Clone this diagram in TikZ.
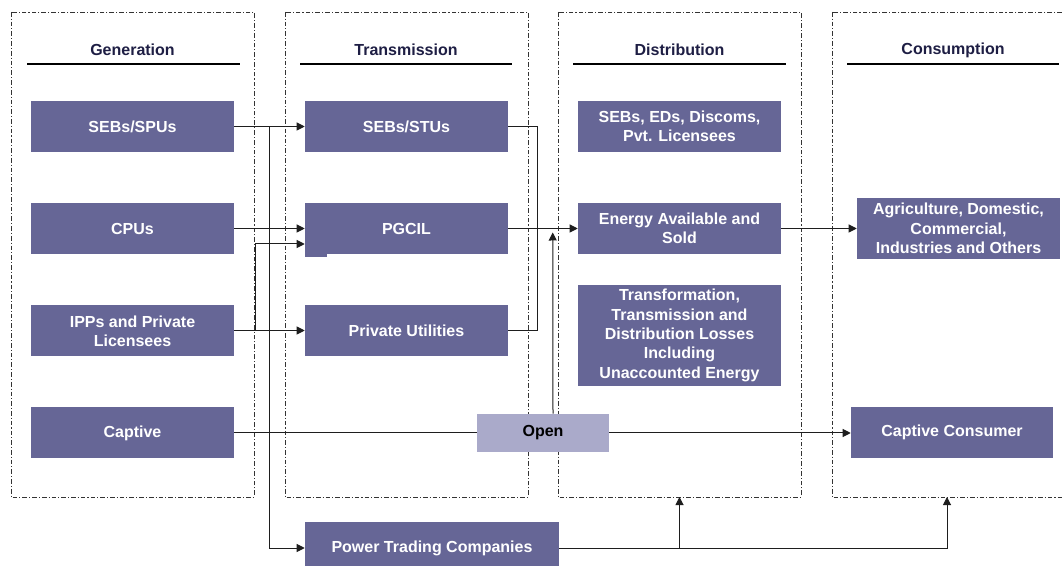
\documentclass[tikz,border=0pt]{standalone}
\usepackage{fontspec}
\setmainfont{Liberation Sans}
\usetikzlibrary{arrows.meta,calc}
\definecolor{boxfill}{RGB}{102,102,150}
\definecolor{openfill}{RGB}{170,170,202}
\definecolor{headcol}{RGB}{30,30,68}
\definecolor{linecol}{RGB}{30,30,30}
\tikzset{
  box/.style={fill=boxfill, text=white, font=\fontsize{12}{14.5}\selectfont\bfseries, align=center, inner sep=0pt, minimum width=203*0.75pt, minimum height=51*0.75pt},
  openbox/.style={fill=openfill, text=black, font=\fontsize{12}{14.5}\selectfont\bfseries, inner sep=0pt, minimum width=132*0.75pt, minimum height=38*0.75pt},
  header/.style={text=headcol, font=\fontsize{12}{14.5}\selectfont\bfseries, inner sep=0pt},
  panel/.style={draw=black!80, line width=0.6pt, dash pattern=on 3.5pt off 1.5pt on 0.8pt off 1.5pt},
  uline/.style={draw=black, line width=2pt},
  conn/.style={draw=linecol, line width=0.75pt},
  arr/.style={conn, -{Triangle[length=6pt,width=6pt]}}
}
\begin{document}
\begin{tikzpicture}[x=0.75pt,y=-0.75pt]
\useasboundingbox (0,0) rectangle (1064,566);
\clip (0,0) rectangle (1064,566);
\fill[white] (0,0) rectangle (1064,566);
% panels
\draw[panel] (11,12) rectangle (254,497);
\draw[panel] (285,12) rectangle (528,497);
\draw[panel] (558,12) rectangle (801,497);
\draw[panel] (832,12) rectangle (1080,497);
% headers
\node[header] (hgen) at (132.5,50) {Generation};
\node[header] (htra) at (406,50) {Transmission};
\node[header] (hdis) at (679.5,50) {Distribution};
\node[header] (hcon) at (953,50) {Consumption};
\draw[uline] (27,64) -- (240,64);
\draw[uline] (300,64) -- (512,64);
\draw[uline] (573,64) -- (786,64);
\draw[uline] (847,64) -- (1059,64);
% generation
\node[box] (sebspu) at (132.5,126.5) {SEBs/SPUs};
\node[box] (cpu) at (132.5,228.5) {CPUs};
\node[box] (ipp) at (132.5,331) {IPPs and Private\\Licensees};
\node[box] (captive) at (132.5,433) {Captive};
% transmission
\node[box] (sebstu) at (406.5,126.5) {SEBs/STUs};
\node[box] (pgcil) at (406.5,228.5) {PGCIL};
\fill[boxfill] (305,253) rectangle (327,257.5);
\node[box] (privu) at (406.5,330.5) {Private Utilities};
% distribution
\node[box] (sebsed) at (679.5,126.5) {SEBs, EDs, Discoms,\\Pvt. Licensees};
\node[box] (energy) at (679.5,228.5) {Energy Available and\\Sold};
\node[box, minimum height=101*0.75pt] (losses) at (679.5,335.5) {Transformation,\\Transmission and\\Distribution Losses\\Including\\Unaccounted Energy};
% consumption
\node[box, minimum height=61*0.75pt] (agri) at (958.5,228.5) {Agriculture, Domestic,\\Commercial,\\Industries and Others};
\node[box, minimum width=202*0.75pt] (capcons) at (952,432.5) {Captive Consumer};
% open and trading
\node[openbox] (open) at (543,433) {Open};
\node[box, minimum width=254*0.75pt, minimum height=52*0.75pt] (ptc) at (432,548) {Power Trading Companies};
% coordinates
\coordinate (b1) at (269,126.5);
\coordinate (b2) at (255,330.5);
\coordinate (p3b) at (679.5,497);
\coordinate (p4b) at (947,497);
% connectors
\draw[arr] (sebspu.east) -- (sebstu.west);
\draw[arr] (b1) |- (ptc.west);
\draw[arr] (cpu.east) -- (pgcil.west);
\draw[arr] (ipp.east |- privu.west) -- (privu.west);
\draw[arr] (b2) |- ($(pgcil.west)+(0,15.5)$);
\draw[conn] (sebstu.east) -| ($(privu.east)+(29,0)$) -- (privu.east);
\draw[arr] (pgcil.east) -- (energy.west);
\draw[arr] ($(open.north)+(10,0)$) -- ($(energy.west)+(-25,4)$);
\draw[conn] (captive.east) -- (open.west);
\draw[arr] (open.east) -- (capcons.west |- open.east);
\draw[arr] (energy.east) -- (agri.west);
\draw[arr] (ptc.east) -| (p4b);
\draw[arr] (ptc.east -| p3b) -- (p3b);
\end{tikzpicture}
\end{document}
